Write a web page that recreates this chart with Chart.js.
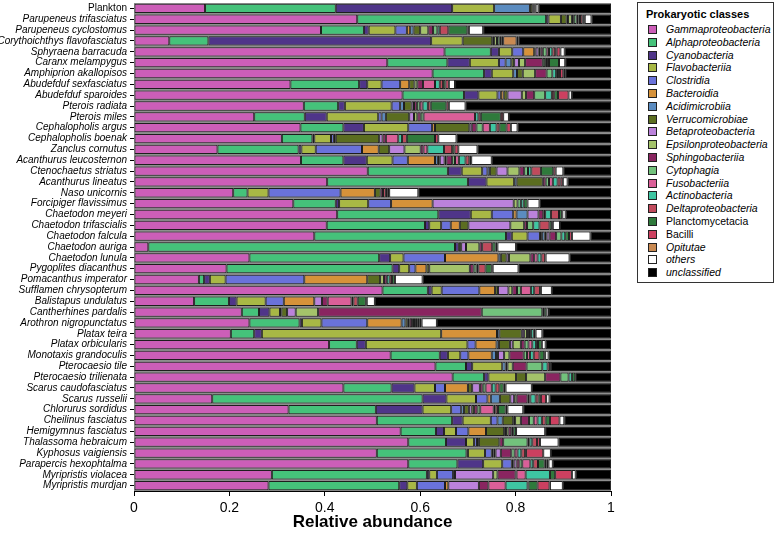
<!DOCTYPE html>
<html>
<head>
<meta charset="utf-8">
<script src="https://cdn.jsdelivr.net/npm/chart.js@4"></script>
<style>
  body { margin: 0; background: #fff; font-family: 'Liberation Sans', Arial, sans-serif; overflow: hidden; }
  #wrap { position: relative; width: 778px; height: 548px; overflow: hidden; }
  #chart { position: absolute; left: 0; top: -6px; }
  #legend {
    position: absolute; left: 637px; top: 2px; width: 137px; height: 281px;
    border: 1px solid #333; box-sizing: border-box; background: #fff;
  }
  #legend .title { position: absolute; left: 8px; top: 5px; font-weight: bold; font-size: 11px; }
  #legend .item { position: absolute; left: 10px; font-size: 10.5px; font-style: italic; white-space: nowrap; line-height: 12px; }
  #legend .item.plain { font-style: normal; }
  #legend .sw { display: inline-block; width: 7px; height: 7px; border: 1px solid #222; margin-right: 9px; vertical-align: -1px; }
</style>
</head>
<body>
<div id="wrap">
  <canvas id="chart" width="778" height="554"></canvas>
  <div id="legend"><div class="title">Prokaryotic classes</div></div>
</div>
<script>
// --- Data ---
const samples = ['Plankton', 'Parupeneus trifasciatus', 'Parupeneus cyclostomus', 'Corythoichthys flavofasciatus',
    'Sphyraena barracuda', 'Caranx melampygus', 'Amphiprion akallopisos', 'Abudefduf sexfasciatus', 'Abudefduf sparoides',
    'Pterois radiata', 'Pterois miles', 'Cephalopholis argus', 'Cephalopholis boenak', 'Zanclus cornutus',
    'Acanthurus leucosternon', 'Ctenochaetus striatus', 'Acanthurus lineatus', 'Naso unicornis', 'Forcipiger flavissimus',
    'Chaetodon meyeri', 'Chaetodon trifascialis', 'Chaetodon falcula', 'Chaetodon auriga', 'Chaetodon lunula',
    'Pygoplites diacanthus', 'Pomacanthus imperator', 'Sufflamen chrysopterum', 'Balistapus undulatus',
    'Cantherhines pardalis', 'Arothron nigropunctatus', 'Platax teira', 'Platax orbicularis', 'Monotaxis grandoculis',
    'Pterocaesio tile', 'Pterocaesio trilienata', 'Scarus caudofasciatus', 'Scarus russelii', 'Chlorurus sordidus',
    'Cheilinus fasciatus', 'Hemigymnus fasciatus', 'Thalassoma hebraicum', 'Kyphosus vaigiensis',
    'Parapercis hexophtalma', 'Myripristis violacea', 'Myripristis murdjan'];

const gamma = [.149,.468,.392,.074,.651,.531,.626,.328,.563,.356,.252,.349,.310,.175,.350,.490,.405,.208,.334,.426,.404,.378,.030,.242,.194,.136,.521,.126,.226,.242,.203,.409,.538,.632,.668,.439,.164,.324,.509,.559,.575,.509,.575,.289,.282];
const alpha = [.274,.396,.090,.082,.097,.126,.108,.144,.129,.072,.106,.090,.064,.170,.089,.168,.295,.030,.089,.212,.206,.402,.643,.272,.348,.011,.095,.073,.036,.105,.049,.058,.103,.064,.066,.101,.441,.183,.158,.074,.079,.188,.103,.325,.274];
const cyano = [.244,.005,.010,.467,.017,.047,.016,.017,.030,.014,.046,.043,.004,.006,.049,.029,.039,0,.007,.068,.009,.012,.008,.023,.014,.012,.008,.016,.022,.005,.016,.019,.017,.013,.009,.048,.050,.098,.022,.017,.042,.003,.054,.005,.017];
const flavo = [.088,.026,.056,.066,.028,.061,.045,.030,.040,.098,.108,.093,.035,.030,.054,.043,.058,.044,.061,.044,.025,.033,0,.028,.021,.033,.021,.061,.022,.041,.376,.213,.026,.063,.058,.043,.062,.060,.059,.025,.017,.036,.040,.016,.020];
const clostridia = [0,0,.024,0,.023,.014,0,.039,.007,.018,.007,.050,.006,.097,.032,.011,0,.151,.048,.045,.020,.026,0,.087,.013,.165,.079,.038,0,.096,0,.017,.017,0,0,.021,.024,.021,.014,.026,.006,.014,.020,.034,.059];
const bacteroidia = [0,0,.007,0,.023,0,0,.019,.006,0,0,.006,0,.035,.057,0,0,.072,.087,.007,.019,.004,0,.112,.023,.132,.033,.064,0,.072,.117,.044,.049,0,0,.048,.007,0,0,.037,0,.004,.004,.004,.007];
const acidimicrobiia = [.075,0,.007,0,0,.012,.008,0,0,.008,.009,0,.004,0,.006,.005,.005,0,0,.023,0,.006,0,.005,0,0,0,0,.003,.008,.005,.005,.009,.007,0,0,.019,.006,.011,0,.004,.004,0,0,0];
const verruco = [.005,.012,.014,.062,.003,.006,.012,.011,.008,.016,.049,.072,.091,.022,.004,.014,.055,.012,0,0,.018,.004,.005,.012,.006,.027,.006,0,.012,.005,.047,.023,.004,.004,.021,.009,.022,.010,.022,.038,.043,0,0,0,0];
const beta = [0,.003,0,.004,.006,.010,0,0,.030,.005,.010,.005,.007,.032,.010,.023,0,0,.170,.023,.088,.006,.010,.005,0,0,.022,.016,.018,.004,.005,.006,.013,0,0,.016,.008,.006,.004,.004,0,.011,.006,.080,.064];
const epsilon = [0,.008,.017,.006,.004,.013,.026,.006,.009,0,.007,0,0,.034,.004,.025,0,0,.008,0,.029,0,.028,.045,.085,.008,.008,0,.047,0,.006,.017,.011,.011,.040,0,.005,.005,.012,.005,0,0,0,.009,0];
const sphingo = [.003,.004,.010,0,.005,.037,.024,.012,.017,.006,.007,.010,.007,.006,.012,.010,.006,.005,0,.010,.006,.014,.006,.008,.008,.006,.010,.012,.343,.005,.004,.008,.030,.029,.032,.006,.023,.007,.017,.006,.008,.022,.006,.038,.020];
const cytophagia = [0,.006,.009,.005,.008,.005,.012,0,.023,.006,.006,.013,0,0,.006,.008,.007,0,.007,.004,.013,.011,0,0,.006,0,.008,0,.127,.004,.004,.008,.007,.033,.017,.006,.004,.006,.010,0,.051,.007,.006,.002,0];
const fuso = [0,.004,0,0,.005,0,0,.025,0,.006,.108,.015,.026,.008,.008,0,.008,0,0,0,0,0,0,.007,.004,0,.021,.050,0,0,0,.008,.006,0,0,.013,.002,.028,.008,0,.004,.006,.017,.019,.036];
const actino = [.002,.003,.005,.004,.007,.004,.008,.010,.014,.011,.007,.014,.008,.035,.014,.007,.010,0,.006,.012,.013,.008,0,.008,0,.006,.007,.004,.004,.004,.006,.008,.008,.011,.007,.008,.011,.004,.009,.004,.006,.008,.006,.051,.046];
const delta = [0,.005,.018,0,.006,.004,.004,.007,.005,.006,.005,.006,.010,.017,.008,.020,.006,.006,0,.017,.021,0,.021,.008,.015,.005,.012,.009,0,.004,0,.004,.012,.005,0,.008,.006,.005,.008,0,.010,.008,.010,0,.002];
const plancto = [.002,.003,.040,.004,.003,.021,.004,.005,.008,.033,.042,.015,.059,.005,.004,.026,0,.004,.008,.006,.005,.008,.007,0,.013,.006,0,.017,.005,.004,.004,.008,.010,.002,.007,.009,.005,.016,.009,.006,0,.002,.014,.011,.019];
const bacilli = [0,.002,0,0,.008,0,.007,.007,.022,.005,.005,.009,.007,.008,0,.005,.005,.003,0,.001,.002,.006,.004,.001,.002,0,.002,.002,0,.004,0,0,.002,0,0,.004,.011,.004,.020,0,.006,.036,.004,.035,.025];
const opitutae = [0,0,.003,.028,0,0,0,0,0,0,0,0,0,0,0,0,0,0,0,0,0,0,0,0,0,0,0,0,0,0,0,0,0,0,0,0,0,0,0,0,0,0,.004,0,.001];
const others = [.006,.014,.030,.004,.009,.013,.004,.013,.007,.035,.012,.014,.038,.040,.043,.016,.010,.061,.025,.007,.015,.039,.039,.050,.054,.058,.023,.017,.005,.032,.014,.008,.007,0,0,.055,.007,.033,.010,.061,.039,.016,.009,.008,.027];
const unclassified = [.152,.041,.268,.194,.097,.096,.096,.327,.082,.305,.214,.196,.324,.280,.250,.100,.091,.404,.150,.095,.107,.043,.199,.087,.194,.395,.124,.495,.130,.365,.144,.137,.131,.126,.075,.166,.129,.184,.098,.138,.110,.126,.122,.074,.102];

const xTicks = [0, 0.2, 0.4, 0.6, 0.8, 1];

// legend order, colours, and whether the name is set upright
const classes = [
    { name: 'Gammaproteobacteria', data: gamma, color: '#cc5eb8' },
    { name: 'Alphaproteobacteria', data: alpha, color: '#45c27a' },
    { name: 'Cyanobacteria', data: cyano, color: '#4f3589' },
    { name: 'Flavobacteriia', data: flavo, color: '#a8b845' },
    { name: 'Clostridia', data: clostridia, color: '#6a72da' },
    { name: 'Bacteroidia', data: bacteroidia, color: '#d6923a' },
    { name: 'Acidimicrobiia', data: acidimicrobiia, color: '#5b8cc0' },
    { name: 'Verrucomicrobiae', data: verruco, color: '#5b6d20' },
    { name: 'Betaproteobacteria', data: beta, color: '#bb82db' },
    { name: 'Epsilonproteobacteria', data: epsilon, color: '#a4c36a' },
    { name: 'Sphingobacteriia', data: sphingo, color: '#892560' },
    { name: 'Cytophagia', data: cytophagia, color: '#72c27c' },
    { name: 'Fusobacteriia', data: fuso, color: '#da5f98' },
    { name: 'Actinobacteria', data: actino, color: '#3ec6a2' },
    { name: 'Deltaproteobacteria', data: delta, color: '#c04a5c' },
    { name: 'Planctomycetacia', data: plancto, color: '#2f7a3c', plain: true },
    { name: 'Bacilli', data: bacilli, color: '#cc4060', plain: true },
    { name: 'Opitutae', data: opitutae, color: '#c98a52' },
    { name: 'others', data: others, color: '#ffffff' },
    { name: 'unclassified', data: unclassified, color: '#000000' }
];

// --- Legend (HTML box) ---
const legendEl = document.getElementById('legend');
classes.forEach((c, i) => {
    const row = document.createElement('div');
    row.className = 'item' + (c.plain ? ' plain' : '');
    row.style.top = (20 + i * 12.8) + 'px';
    row.innerHTML = '<span class="sw" style="background:' + c.color + '"></span>' + c.name;
    legendEl.appendChild(row);
});

// grey backdrop behind the bars (shows as thin lines between rows)
const plotBackground = {
    id: 'plotBackground',
    beforeDatasetsDraw(chart) {
        const { ctx, chartArea: a } = chart;
        ctx.save();
        ctx.fillStyle = '#8e8e8e';
        ctx.fillRect(a.left, a.top, a.right - a.left, a.bottom - a.top);
        ctx.restore();
    }
};

// --- Chart ---
const FONT = "'Liberation Sans', Arial, sans-serif";

new Chart(document.getElementById('chart'), {
    type: 'bar',
    data: {
        labels: samples,
        datasets: classes.map(c => ({
            label: c.name,
            data: c.data,
            backgroundColor: c.color,
            borderColor: '#1e1e1e',
            borderWidth: 1,
            borderSkipped: false,
            barPercentage: 0.86,
            categoryPercentage: 1
        }))
    },
    options: {
        indexAxis: 'y',
        responsive: false,
        animation: false,
        layout: { padding: { top: 0, right: 167, left: 0, bottom: 12 } },
        plugins: {
            legend: { display: false },
            tooltip: { enabled: false }
        },
        scales: {
            x: {
                stacked: true,
                min: 0,
                max: 1,
                afterFit: s => { s.height = 45; },
                afterBuildTicks: s => { s.ticks = xTicks.map(v => ({ value: v })); },
                ticks: {
                    color: '#000',
                    font: { family: FONT, size: 14 },
                    padding: 4,
                    callback: v => String(v)
                },
                grid: { drawOnChartArea: false, drawTicks: true, tickLength: 5, color: '#000' },
                border: { display: true, color: '#000', width: 1 },
                title: {
                    display: true,
                    text: 'Relative abundance',
                    color: '#000',
                    font: { family: FONT, size: 17, weight: 'bold' },
                    padding: { top: 0, bottom: 3 }
                }
            },
            y: {
                stacked: true,
                afterFit: s => { s.width = 134; },
                ticks: {
                    color: '#000',
                    autoSkip: false,
                    padding: 3,
                    font: ctx => ({ family: FONT, size: 10, style: ctx.index === 0 ? 'normal' : 'italic' })
                },
                grid: { drawOnChartArea: false, drawTicks: true, tickLength: 4, color: '#000', offset: false },
                border: { display: true, color: '#000', width: 1 }
            }
        }
    },
    plugins: [plotBackground]
});
</script>
</body>
</html>
